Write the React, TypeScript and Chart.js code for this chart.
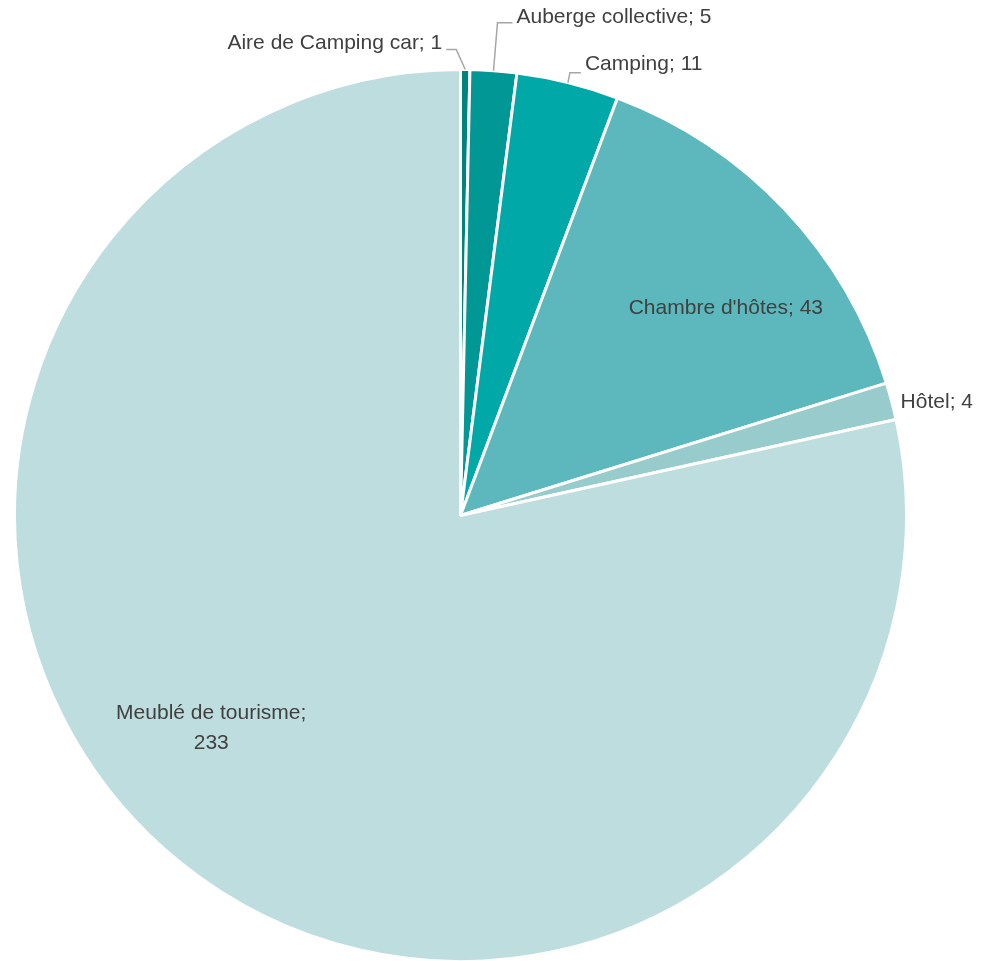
import React, { useEffect, useRef } from "react";
import { Chart, registerables } from "chart.js";

Chart.register(...registerables);

const categories = [
  "Aire de Camping car",
  "Auberge collective",
  "Camping",
  "Chambre d'hôtes",
  "Hôtel",
  "Meublé de tourisme",
];
const values = [1, 5, 11, 43, 4, 233];
const colors = ["#00827F", "#009794", "#00A8A8", "#5CB8BC", "#98CBCB", "#BDDDDF"];

type LabelCfg =
  | { kind: "inside"; angle: number; rf: number; lines: string[] }
  | {
      kind: "outside";
      elbow: [number, number];
      knee: [number, number];
      align: "left" | "right";
      dy: number;
      lines: string[];
    };

const labelCfg: LabelCfg[] = [
  { kind: "outside", knee: [-9, -20], elbow: [-19, -20], align: "right", dy: -6, lines: ["Aire de Camping car; 1"] },
  { kind: "outside", knee: [4, -48], elbow: [19, -48], align: "left", dy: -6, lines: ["Auberge collective; 5"] },
  { kind: "outside", knee: [2, -10], elbow: [13, -10], align: "left", dy: -8, lines: ["Camping; 11"] },
  { kind: "inside", angle: 52, rf: 0.755, lines: ["Chambre d'hôtes; 43"] },
  { kind: "outside", knee: [0, 0], elbow: [5, 0], align: "left", dy: 1, lines: ["Hôtel; 4"] },
  { kind: "inside", angle: 229.5, rf: 0.735, lines: ["Meublé de tourisme;", "233"] },
];

const FONT = '21px "Liberation Sans", Arial, sans-serif';

const labelPlugin = {
  id: "pieLabels",
  afterDatasetsDraw(chart: any) {
    const ctx = chart.ctx as CanvasRenderingContext2D;
    const meta = chart.getDatasetMeta(0);
    ctx.save();
    ctx.font = FONT;
    ctx.fillStyle = "#404040";
    ctx.textBaseline = "middle";
    meta.data.forEach((arc: any, i: number) => {
      const cfg = labelCfg[i];
      const { x, y, outerRadius, startAngle, endAngle } = arc.getProps(
        ["x", "y", "outerRadius", "startAngle", "endAngle"],
        true
      );
      if (cfg.kind === "inside") {
        const a = (cfg.angle * Math.PI) / 180;
        const cx = x + Math.sin(a) * outerRadius * cfg.rf;
        const cy = y - Math.cos(a) * outerRadius * cfg.rf;
        ctx.textAlign = "center";
        const lh = 30;
        cfg.lines.forEach((l, k) => {
          ctx.fillText(l, cx, cy + (k - (cfg.lines.length - 1) / 2) * lh);
        });
      } else {
        const mid = (startAngle + endAngle) / 2;
        const ax = x + Math.cos(mid) * outerRadius;
        const ay = y + Math.sin(mid) * outerRadius;
        const kx = ax + cfg.knee[0];
        const ky = ay + cfg.knee[1];
        const ex = ax + cfg.elbow[0];
        const ey = ay + cfg.elbow[1];
        if (cfg.knee[0] !== 0 || cfg.knee[1] !== 0) {
          ctx.strokeStyle = "#A6A6A6";
          ctx.lineWidth = 1.5;
          ctx.beginPath();
          ctx.moveTo(ax, ay);
          ctx.lineTo(kx, ky);
          ctx.lineTo(ex, ey);
          ctx.stroke();
        }
        const gap = 4;
        if (cfg.align === "right") {
          ctx.textAlign = "right";
          ctx.fillText(cfg.lines[0], ex - gap, ey + cfg.dy);
        } else {
          ctx.textAlign = "left";
          ctx.fillText(cfg.lines[0], ex + gap, ey + cfg.dy);
        }
      }
    });
    ctx.restore();
  },
};

export default function App() {
  const ref = useRef<HTMLCanvasElement | null>(null);
  useEffect(() => {
    document.body.style.margin = "0";
    document.body.style.overflow = "hidden";
    const chart = new Chart(ref.current!, {
      type: "pie",
      data: {
        labels: categories,
        datasets: [
          {
            data: values,
            backgroundColor: colors,
            borderColor: "#FFFFFF",
            borderWidth: 3,
          },
        ],
      },
      options: {
        animation: false,
        responsive: false,
        rotation: 0,
        layout: { padding: { left: 13, right: 73, top: 68, bottom: 0 } },
        plugins: {
          legend: { display: false },
          tooltip: { enabled: false },
        },
      },
      plugins: [labelPlugin],
    });
    return () => chart.destroy();
  }, []);
  return (
    <div style={{ width: 981, height: 961, background: "#fff", overflow: "hidden" }}>
      <canvas ref={ref} width={981} height={963} style={{ display: "block" }} />
    </div>
  );
}
